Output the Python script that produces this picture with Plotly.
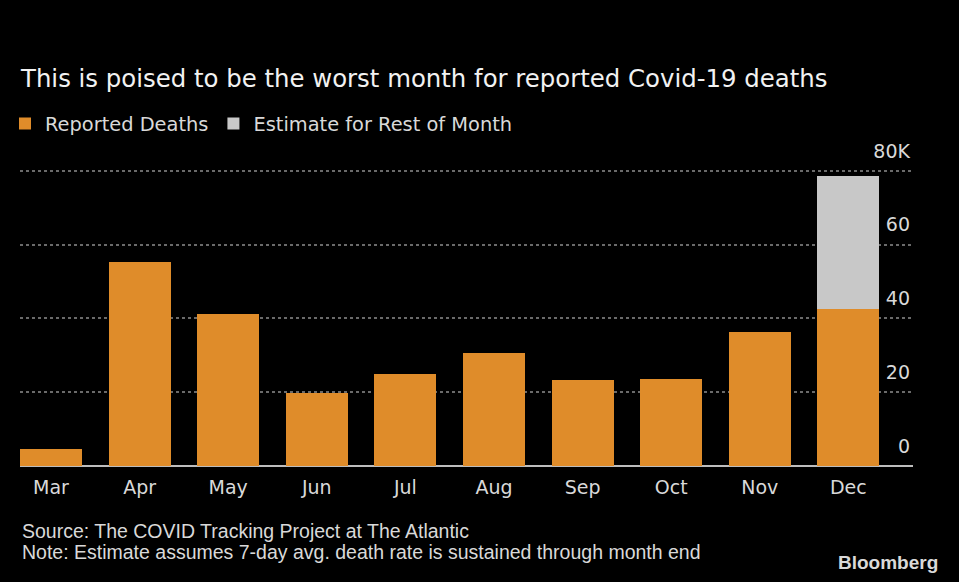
import plotly.graph_objects as go

months = ["Mar", "Apr", "May", "Jun", "Jul", "Aug", "Sep", "Oct", "Nov", "Dec"]
reported = [4.5, 55.3, 41.3, 19.8, 24.9, 30.6, 23.3, 23.7, 36.4, 42.5]
estimate = [0, 0, 0, 0, 0, 0, 0, 0, 0, 36.0]
ytick_vals = [0, 20, 40, 60, 80]
ytick_text = ["0", "20", "40", "60", "80K"]
source_text = "Source: The COVID Tracking Project at The Atlantic"
note_text = "Note: Estimate assumes 7-day avg. death rate is sustained through month end"

ORANGE = "#DF8C2A"
GRAY = "#C8C8C8"
TXT = "#D9D9D9"
FONT = "DejaVu Sans, Verdana, sans-serif"
FOOT = "Liberation Sans, Arial, sans-serif"

PLOT_TOP, PLOT_BOTTOM = 134, 466
PH = PLOT_BOTTOM - PLOT_TOP


def py(pix):
    return (PLOT_BOTTOM - pix) / PH


fig = go.Figure()
fig.add_bar(x=months, y=reported, name="Reported Deaths", marker_color=ORANGE, marker_line_width=0)
fig.add_bar(x=months, y=estimate, name="Estimate for Rest of Month", marker_color=GRAY, marker_line_width=0)

fig.update_layout(
    width=959, height=582,
    barmode="stack", bargap=0.3,
    paper_bgcolor="#000000", plot_bgcolor="#000000",
    margin=dict(l=20, r=46, t=PLOT_TOP, b=582 - PLOT_BOTTOM, autoexpand=False),
    font=dict(family=FONT, color=TXT, size=19),
    showlegend=True,
    legend=dict(orientation="h", x=5 / 959, xref="container", xanchor="left",
                y=1 - 124 / 582, yref="container", yanchor="middle",
                font=dict(size=19.4, color=TXT), itemwidth=30, traceorder="normal",
                tracegroupgap=0, bgcolor="rgba(0,0,0,0)"),
    title=dict(text="This is poised to be the worst month for reported Covid-19 deaths",
               x=21 / 959, xanchor="left", xref="container", y=1 - 78 / 582, yanchor="middle", yref="container",
               font=dict(size=24.4, color="#F2F2F2", family=FONT)),
    xaxis=dict(range=[-0.35, 9.73], showgrid=False, zeroline=False, showline=False, automargin=False,
               ticks="", tickfont=dict(size=19, color=TXT), ticklabelstandoff=8),
    yaxis=dict(range=[0, 90], side="right", tickvals=ytick_vals, ticktext=ytick_text, automargin=False,
               showgrid=True, gridcolor="#6A6A6A", griddash="dot", gridwidth=1.5,
               zeroline=True, zerolinecolor="#BDBDBD", zerolinewidth=2,
               ticklabelposition="inside", ticklabelshift=-20,
               tickfont=dict(size=19, color=TXT)),
)

fig.add_annotation(text=source_text, xref="paper", yref="paper", x=0, y=py(531), xanchor="left", yanchor="middle",
                   showarrow=False, font=dict(size=19.5, color=TXT, family=FOOT))
fig.add_annotation(text=note_text, xref="paper", yref="paper", x=0, y=py(552), xanchor="left", yanchor="middle",
                   showarrow=False, font=dict(size=19.5, color=TXT, family=FOOT))
fig.add_annotation(text="<b>Bloomberg</b>", xref="paper", yref="paper", x=(940 - 20) / 893, y=py(562),
                   xanchor="right", yanchor="middle",
                   showarrow=False, font=dict(size=19, color=TXT, family=FOOT))

fig.write_html("out.html")
